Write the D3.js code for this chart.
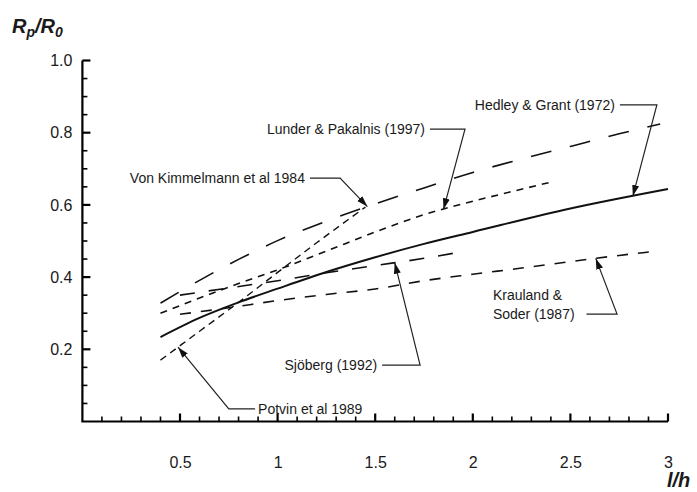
<!DOCTYPE html>
<html>
<head>
<meta charset="utf-8">
<script src="https://cdn.jsdelivr.net/npm/d3@7"></script>
<style>
  body { margin: 0; background: #fff; }
  svg { display: block; }
  text { font-family: "Liberation Sans", Arial, Helvetica, sans-serif; fill: #1a1a1a; }
</style>
</head>
<body>
<svg id="chart" width="697" height="492"></svg>
<script>
// Tick values
const xTickValues = [0.5, 1, 1.5, 2, 2.5, 3];
const yTickValues = [0.2, 0.4, 0.6, 0.8, 1.0];

// Span ratio l/h for each relation
const hedleyX      = [0.4, 0.6, 0.8, 1.0, 1.25, 1.5, 1.75, 2.0, 2.5, 3.0];
const hedleyY      = [0.234, 0.287, 0.330, 0.368, 0.414, 0.455, 0.492, 0.525, 0.590, 0.644];

const kimmelmannX  = [0.4, 0.6, 0.8, 1.0, 1.25, 1.5, 1.75, 2.0, 2.25, 2.5, 2.75, 2.96];
const kimmelmannY  = [0.328, 0.391, 0.449, 0.501, 0.555, 0.603, 0.647, 0.690, 0.727, 0.762, 0.797, 0.824];

const lunderX      = [0.4, 0.6, 0.8, 1.0, 1.25, 1.5, 1.75, 2.0, 2.2, 2.4];
const lunderY      = [0.300, 0.342, 0.382, 0.420, 0.472, 0.525, 0.573, 0.610, 0.637, 0.663];

const potvinX      = [0.4, 0.6, 0.8, 1.0, 1.2, 1.45];
const potvinY      = [0.170, 0.250, 0.330, 0.413, 0.495, 0.594];

const sjobergX     = [0.5, 0.75, 1.0, 1.25, 1.5, 1.75, 1.9];
const sjobergY     = [0.350, 0.370, 0.390, 0.412, 0.432, 0.452, 0.466];

const kraulandX    = [0.5, 0.75, 1.0, 1.25, 1.5, 1.75, 2.0, 2.25, 2.5, 2.75, 2.91];
const kraulandY    = [0.297, 0.315, 0.335, 0.352, 0.367, 0.390, 0.408, 0.425, 0.443, 0.460, 0.470];

const series = [
  { key: "kimmelmann", x: kimmelmannX, y: kimmelmannY },
  { key: "lunder",     x: lunderX,     y: lunderY },
  { key: "potvin",     x: potvinX,     y: potvinY },
  { key: "sjoberg",    x: sjobergX,    y: sjobergY },
  { key: "krauland",   x: kraulandX,   y: kraulandY },
  { key: "hedley",     x: hedleyX,     y: hedleyY }
];

// Line styles per relation
const lineStyle = {
  hedley:     { width: 2.0, dash: null },
  kimmelmann: { width: 1.6, dash: "21 19" },
  lunder:     { width: 1.6, dash: "7 6" },
  potvin:     { width: 1.4, dash: "7 5" },
  sjoberg:    { width: 1.6, dash: "15 14" },
  krauland:   { width: 1.6, dash: "11 10" }
};

// Callouts: text anchor, elbow and the point on the curve they point to (data units)
const callouts = [
  { key: "hedley",     lines: ["Hedley & Grant (1972)"],      tx: 2.728, ty: 0.877, anchor: "end",   ex: 2.943, at: 2.82 },
  { key: "lunder",     lines: ["Lunder & Pakalnis (1997)"],   tx: 1.755, ty: 0.810, anchor: "end",   ex: 1.960, at: 1.85 },
  { key: "kimmelmann", lines: ["Von Kimmelmann et al 1984"],  tx: 1.140, ty: 0.674, anchor: "end",   ex: 1.320, at: 1.46 },
  { key: "sjoberg",    lines: ["Sjöberg (1992)"],             tx: 1.510, ty: 0.156, anchor: "end",   ex: 1.730, at: 1.60 },
  { key: "krauland",   lines: ["Krauland &", "Soder (1987)"], tx: 2.103, ty: 0.350, anchor: "start", ex: 2.739, at: 2.63, lineEndX: 2.562 },
  { key: "potvin",     lines: ["Potvin et al 1989"],          tx: 0.900, ty: 0.035, anchor: "start", ex: 0.750, at: 0.49 }
];

const svg = d3.select("#chart");

const x = d3.scaleLinear().domain([0, 3]).range([82.4, 668]);
const y = d3.scaleLinear().domain([0, 1]).range([421.5, 60.5]);

// Axis labels from d3 axes; tick marks are drawn separately, pointing into the plot
const xAxis = d3.axisBottom(x).tickValues(xTickValues)
  .tickSize(0).tickPadding(35).tickFormat(d3.format("~g"));
const yAxis = d3.axisLeft(y).tickValues(yTickValues)
  .tickSize(0).tickPadding(10).tickFormat(d3.format(".1f"));

function styleAxis(g) {
  g.select(".domain").remove();
  g.selectAll(".tick line").remove();
  g.selectAll(".tick text").attr("font-size", 16).attr("fill", "#1a1a1a")
    .attr("font-family", "\"Liberation Sans\", Arial, sans-serif");
}
svg.append("g").attr("transform", `translate(0,${y(0)})`).call(xAxis).call(styleAxis);
svg.append("g").attr("transform", `translate(${x(0)},0)`).call(yAxis).call(styleAxis);

const axisMarks = svg.append("g").attr("stroke", "#000").attr("fill", "none");
const xMinorVals = d3.range(1, 31).map(d => d / 10);
const yMinorVals = d3.range(1, 21).map(d => d / 20);
const isMajorX = v => xTickValues.some(t => Math.abs(t - v) < 1e-9);
const isMajorY = v => yTickValues.some(t => Math.abs(t - v) < 1e-9);

axisMarks.selectAll("line.xt").data(xMinorVals).join("line")
  .attr("class", "xt")
  .attr("x1", d => x(d)).attr("x2", d => x(d))
  .attr("y1", y(0)).attr("y2", d => y(0) - (isMajorX(d) ? 8 : 5))
  .attr("stroke-width", d => isMajorX(d) ? 2.2 : 1.6);

axisMarks.selectAll("line.yt").data(yMinorVals).join("line")
  .attr("class", "yt")
  .attr("y1", d => y(d)).attr("y2", d => y(d))
  .attr("x1", x(0)).attr("x2", d => x(0) + (isMajorY(d) ? 8 : 5))
  .attr("stroke-width", d => isMajorY(d) ? 2.2 : 1.6);

axisMarks.append("path")
  .attr("d", `M${x(0)},${y(1)} L${x(0)},${y(0)} L${x(3)},${y(0)}`)
  .attr("stroke-width", 2.2);

// Curves
const line = d3.line()
  .x(d => x(d[0]))
  .y(d => y(d[1]))
  .curve(d3.curveMonotoneX);

const curves = svg.append("g").attr("fill", "none");
series.forEach(s => {
  const pts = s.x.map((v, i) => [v, s.y[i]]);
  const st = lineStyle[s.key];
  curves.append("path")
    .datum(pts)
    .attr("d", line)
    .attr("stroke", "#111")
    .attr("stroke-width", st.width)
    .attr("stroke-dasharray", st.dash);
});

// Value of a relation at a given span ratio
function valueAt(key, xv) {
  const s = series.find(d => d.key === key);
  const i = Math.max(1, Math.min(s.x.length - 1, d3.bisectLeft(s.x, xv)));
  const t = (xv - s.x[i - 1]) / (s.x[i] - s.x[i - 1]);
  return s.y[i - 1] + t * (s.y[i] - s.y[i - 1]);
}

// Arrowhead
svg.append("defs").append("marker")
  .attr("id", "arrow")
  .attr("viewBox", "0 0 10 10")
  .attr("refX", 10).attr("refY", 5)
  .attr("markerWidth", 11).attr("markerHeight", 11)
  .attr("markerUnits", "userSpaceOnUse")
  .attr("orient", "auto")
  .append("path")
  .attr("d", "M0,1.8 L10,5 L0,8.2 Z")
  .attr("fill", "#111");

const notes = svg.append("g");
callouts.forEach(c => {
  const fs = 14, lh = 19;
  const t = notes.append("text")
    .attr("font-size", fs)
    .attr("text-anchor", c.anchor);
  c.lines.forEach((ln, i) => {
    t.append("tspan")
      .attr("x", x(c.tx))
      .attr("y", y(c.ty) + i * lh)
      .attr("dy", "0.36em")
      .text(ln);
  });
  const lastY = y(c.ty) + (c.lines.length - 1) * lh;
  let startX;
  if (c.lineEndX !== undefined) startX = x(c.lineEndX) + 4;
  else startX = c.anchor === "end" ? x(c.tx) + 5 : x(c.tx) - 3;
  const tip = [x(c.at), y(valueAt(c.key, c.at))];
  notes.append("path")
    .attr("d", `M${startX},${lastY} L${x(c.ex)},${lastY} L${tip[0]},${tip[1]}`)
    .attr("fill", "none")
    .attr("stroke", "#222")
    .attr("stroke-width", 1.2)
    .attr("marker-end", "url(#arrow)");
});

// Axis titles
const yTitle = svg.append("text")
  .attr("x", 12).attr("y", 33)
  .attr("font-size", 20).attr("font-weight", "bold").attr("font-style", "italic");
yTitle.append("tspan").text("R");
yTitle.append("tspan").attr("font-size", 14).attr("dy", 4).text("p");
yTitle.append("tspan").attr("dy", -4).text("/R");
yTitle.append("tspan").attr("font-size", 14).attr("dy", 4).text("0");

svg.append("text")
  .attr("x", 667).attr("y", 487)
  .attr("font-size", 20).attr("font-weight", "bold").attr("font-style", "italic")
  .text("l/h");
</script>
</body>
</html>
